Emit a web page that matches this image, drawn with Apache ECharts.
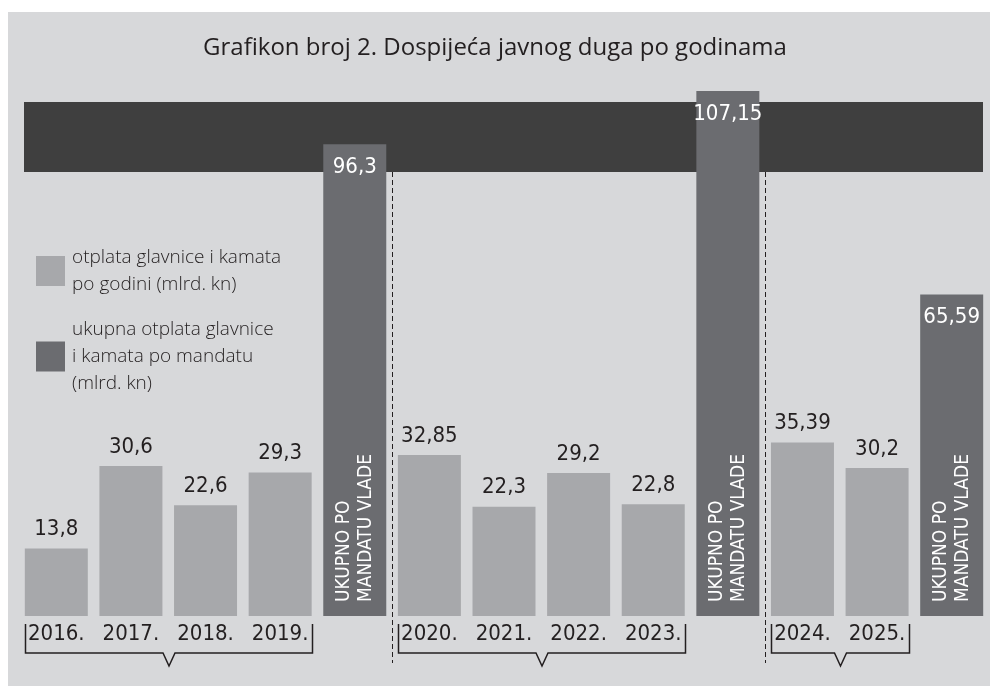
<!DOCTYPE html>
<html>
<head>
<meta charset="utf-8">
<script src="https://cdn.jsdelivr.net/npm/echarts@6/dist/echarts.min.js"></script>
<style>
  html, body { margin: 0; padding: 0; background: #ffffff; }
  #chart { width: 990px; height: 686px; }
</style>
</head>
<body>
<div id="chart"></div>
<script>
// kategorije (13 stupaca: godine + ukupno po mandatu)
const categories = ['2016.', '2017.', '2018.', '2019.', 'mandat1',
    '2020.', '2021.', '2022.', '2023.', 'mandat2',
    '2024.', '2025.', 'mandat3']
const yearLabels = ['2016.', '2017.', '2018.', '2019.', '',
    '2020.', '2021.', '2022.', '2023.', '',
    '2024.', '2025.', '']
// otplata po godini (mlrd. kn)
const annualValues = [13.8, 30.6, 22.6, 29.3, '-', 32.85, 22.3, 29.2, 22.8, '-', 35.39, 30.2, '-']
// ukupno po mandatu (mlrd. kn)
const mandateValues = ['-', '-', '-', '-', 96.3, '-', '-', '-', '-', 107.15, '-', '-', 65.59]
// grupe godina ispod osi (indeksi prvog i zadnjeg stupca)
const yearGroups = [[0, 3], [5, 8], [10, 11]]
// razdjelnici između mandata
const separators = [[4, 5], [9, 10]]

const annualName = 'otplata glavnice i kamata po godini (mlrd. kn)'
const mandateName = 'ukupna otplata glavnice i kamata po mandatu (mlrd. kn)'
const legendText = {}
legendText[annualName] = 'otplata glavnice i kamata\npo godini (mlrd. kn)'
legendText[mandateName] = 'ukupna otplata glavnice\ni kamata po mandatu\n(mlrd. kn)'

const narrow = "'DejaVu Sans Condensed', 'Liberation Sans Narrow', sans-serif"
const plain = "'Open Sans', Lato, sans-serif"
const ink = '#231f20'
const barWidth = 63

const fmt = (p) => String(p.value).replace('.', ',')

const chart = echarts.init(document.getElementById('chart'))

const option = {
    backgroundColor: '#ffffff',
    animation: false,
    title: {
        text: 'Grafikon broj 2. Dospijeća javnog duga po godinama',
        left: 'center',
        top: 31,
        textStyle: {
            fontFamily: plain,
            fontSize: 24,
            fontWeight: 'normal',
            color: ink,
        },
    },
    legend: {
        orient: 'vertical',
        left: 31,
        top: 239,
        itemWidth: 29,
        itemHeight: 30,
        itemGap: 18,
        icon: 'rect',
        data: [annualName, mandateName],
        formatter: (name) => legendText[name],
        textStyle: {
            fontFamily: plain,
            fontSize: 19,
            fontWeight: 300,
            lineHeight: 27,
            color: ink,
            padding: [0, 0, 0, 2],
        },
    },
    grid: {
        left: 19,
        right: 1,
        top: 28,
        bottom: 70,
    },
    xAxis: {
        type: 'category',
        data: categories,
        axisLine: {show: false},
        axisTick: {show: false},
        axisLabel: {
            interval: 0,
            margin: 7,
            fontFamily: narrow,
            fontSize: 22,
            color: ink,
            formatter: (v, i) => yearLabels[i],
        },
    },
    yAxis: {
        type: 'value',
        min: 0,
        max: 120,
        show: false,
    },
    series: [
        {
            name: annualName,
            type: 'bar',
            barWidth: barWidth,
            barGap: '-100%',
            data: annualValues,
            itemStyle: {color: '#a7a8ab'},
            label: {
                show: true,
                position: 'top',
                distance: 8,
                fontFamily: narrow,
                fontSize: 22,
                color: ink,
                formatter: fmt,
            },
        },
        {
            name: mandateName,
            type: 'bar',
            barWidth: barWidth,
            barGap: '-100%',
            data: mandateValues,
            itemStyle: {color: '#6b6c70'},
            label: {
                show: true,
                position: 'insideTop',
                distance: 12,
                fontFamily: narrow,
                fontSize: 22,
                color: '#ffffff',
                formatter: fmt,
            },
        },
        {
            // natpis "UKUPNO PO MANDATU VLADE" u tamnim stupcima
            name: 'natpis',
            type: 'bar',
            barWidth: barWidth,
            barGap: '-100%',
            data: mandateValues,
            silent: true,
            itemStyle: {color: 'rgba(0,0,0,0)'},
            label: {
                show: true,
                position: 'insideBottom',
                distance: 14,
                rotate: 90,
                align: 'left',
                verticalAlign: 'middle',
                fontFamily: narrow,
                fontSize: 19,
                lineHeight: 22,
                color: '#ffffff',
                formatter: () => 'UKUPNO PO\nMANDATU VLADE',
            },
        },
    ],
}
chart.setOption(option)

// pozadina, tamna traka, razdjelnici i zagrade ispod godina
const buildGraphics = () => {
    const toX = (i) => chart.convertToPixel({xAxisIndex: 0}, i)
    const baseY = chart.convertToPixel({yAxisIndex: 0}, 0)
    const half = barWidth / 2
    const elements = [
        {
            type: 'rect',
            z: -10,
            shape: {x: 8, y: 12, width: 982, height: 674},
            style: {fill: '#d7d8da'},
        },
        {
            type: 'rect',
            z: -5,
            shape: {x: 24, y: 102, width: 959, height: 70},
            style: {fill: '#3f3f3f'},
        },
    ]
    separators.forEach(([a, b]) => {
        const x = Math.round((toX(a) + toX(b)) / 2) + 0.5
        elements.push({
            type: 'line',
            shape: {x1: x, y1: 172, x2: x, y2: baseY + 47},
            style: {stroke: ink, lineWidth: 1, lineDash: [5, 3]},
        })
    })
    yearGroups.forEach(([a, b]) => {
        const x1 = Math.round(toX(a) - half) + 0.5
        const x2 = Math.round(toX(b) + half) + 0.5
        const mid = (x1 + x2) / 2
        const top = baseY + 8
        const bot = baseY + 37
        elements.push({
            type: 'polyline',
            shape: {
                points: [[x1, top], [x1, bot], [mid - 6, bot], [mid, bot + 13],
                    [mid + 6, bot], [x2, bot], [x2, top]],
            },
            style: {stroke: ink, lineWidth: 1.5, fill: null},
        })
    })
    chart.setOption({graphic: {elements: elements}})
}
buildGraphics()
</script>
</body>
</html>
